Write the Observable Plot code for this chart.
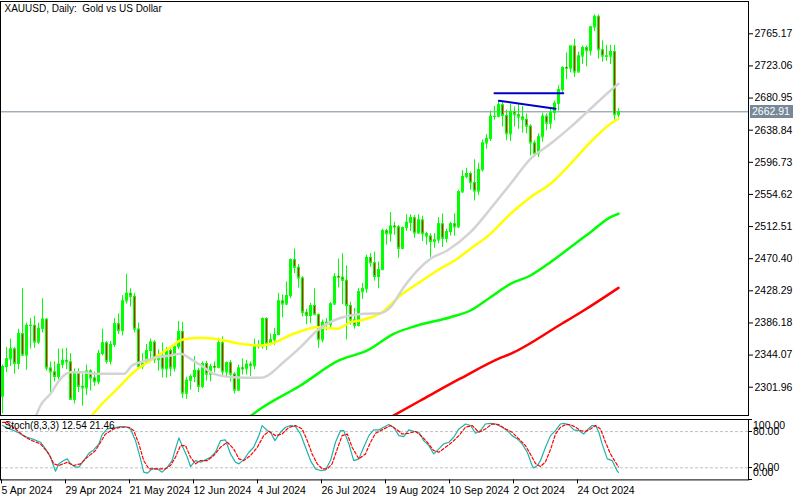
<!DOCTYPE html>
<html><head><meta charset="utf-8">
<script src="https://cdn.jsdelivr.net/npm/d3@7"></script>
<script src="https://cdn.jsdelivr.net/npm/@observablehq/plot@0.6"></script>
<style>
body{margin:0;background:#fff;}
#chart{position:relative;width:800px;height:500px;background:#fff;overflow:hidden;}
#chart svg{position:absolute;left:0;top:0;}
</style></head><body><div id="chart"></div>
<script>
const titleText = "XAUUSD, Daily:  Gold vs US Dollar";
const stochText = "Stoch(8,3,3) 12.54 21.46";
const dateLabels = ["5 Apr 2024","29 Apr 2024","21 May 2024","12 Jun 2024","4 Jul 2024","26 Jul 2024","19 Aug 2024","10 Sep 2024","2 Oct 2024","24 Oct 2024"];
const dateTickIdx = [0,16,32,48,64,80,96,112,128,144];
const priceTicks = [2301.96,2344.07,2386.18,2428.29,2470.40,2512.51,2554.62,2596.73,2638.84,2680.95,2723.06,2765.17];
const lastPrice = 2662.91;
const stochLevels = [20, 80];
const stochAxisVals = [100, 80, 20, 0];
const stochAxisLabels = ["100.00","80.00","20.00","0.00"];

const open = [2290,2329,2339,2352,2333,2372,2344,2383,2383,2361,
 2379,2391,2327,2322,2316,2332,2337,2335,2286,2320,
 2303,2301,2323,2314,2309,2346,2360,2336,2358,2385,
 2376,2415,2425,2421,2378,2329,2333,2350,2361,2338,
 2343,2326,2350,2327,2355,2375,2294,2311,2316,2324,
 2303,2333,2319,2329,2328,2360,2322,2334,2319,2298,
 2327,2326,2332,2330,2356,2356,2392,2359,2364,2371,
 2415,2411,2422,2469,2459,2445,2400,2396,2409,2397,
 2364,2387,2384,2411,2447,2446,2442,2409,2390,2383,
 2427,2431,2472,2465,2447,2456,2507,2503,2513,2512,
 2484,2511,2518,2524,2504,2521,2503,2500,2493,2495,
 2516,2497,2506,2516,2512,2558,2578,2582,2570,2559,
 2587,2622,2628,2657,2657,2672,2658,2634,2663,2659,
 2656,2653,2644,2622,2608,2630,2657,2648,2662,2674,
 2692,2721,2720,2749,2715,2736,2747,2743,2774,2788,
 2744,2736,2736,2742,2659];
const high = [2331,2354,2365,2354,2378,2431,2386,2392,2395,2386,
 2418,2392,2335,2335,2352,2352,2353,2346,2326,2326,
 2319,2331,2325,2322,2350,2378,2362,2362,2392,2398,
 2422,2450,2431,2425,2386,2346,2358,2365,2363,2351,
 2360,2354,2353,2358,2388,2387,2315,2318,2342,2327,
 2335,2336,2332,2335,2366,2368,2335,2337,2321,2331,
 2339,2337,2335,2365,2363,2393,2393,2372,2379,2425,
 2423,2440,2470,2483,2463,2447,2404,2412,2431,2398,
 2390,2392,2413,2451,2470,2477,2461,2413,2405,2431,
 2438,2475,2477,2479,2466,2509,2509,2531,2518,2514,
 2512,2528,2528,2527,2528,2526,2505,2503,2503,2524,
 2529,2509,2518,2529,2560,2586,2589,2584,2600,2595,
 2626,2633,2664,2670,2677,2675,2665,2673,2669,2673,
 2670,2660,2646,2625,2634,2661,2660,2667,2677,2697,
 2722,2740,2749,2758,2741,2749,2749,2775,2790,2790,
 2756,2750,2750,2750,2667];
const low = [2267,2321,2329,2319,2325,2342,2324,2352,2353,2358,
 2373,2323,2291,2309,2308,2326,2325,2285,2280,2295,
 2277,2291,2297,2303,2305,2343,2332,2331,2354,2371,
 2369,2411,2407,2373,2326,2325,2332,2334,2333,2323,
 2314,2314,2316,2322,2351,2287,2286,2298,2308,2295,
 2300,2310,2309,2321,2326,2316,2316,2309,2293,2297,
 2318,2318,2316,2325,2352,2352,2350,2356,2357,2370,
 2393,2409,2418,2451,2432,2394,2384,2385,2397,2353,
 2360,2376,2380,2409,2432,2410,2364,2383,2378,2381,
 2417,2425,2459,2441,2431,2455,2488,2492,2501,2471,
 2482,2506,2506,2497,2502,2493,2488,2472,2484,2490,
 2485,2491,2500,2500,2510,2556,2575,2560,2546,2553,
 2584,2614,2624,2652,2655,2643,2625,2624,2643,2640,
 2635,2634,2605,2604,2603,2623,2638,2640,2651,2664,
 2686,2705,2714,2708,2715,2725,2722,2736,2768,2732,
 2728,2729,2725,2652,2655];
const close = [2329,2339,2352,2333,2372,2344,2383,2383,2361,2379,
 2391,2327,2322,2316,2332,2337,2335,2286,2320,2303,
 2301,2323,2314,2309,2346,2360,2336,2358,2385,2376,
 2415,2425,2421,2378,2329,2333,2350,2361,2338,2343,
 2326,2350,2327,2355,2375,2294,2311,2316,2324,2303,
 2333,2319,2329,2328,2360,2322,2334,2319,2298,2327,
 2326,2332,2330,2356,2356,2392,2359,2364,2371,2415,
 2411,2422,2469,2459,2445,2400,2396,2409,2397,2364,
 2387,2384,2411,2447,2446,2442,2409,2390,2383,2427,
 2431,2472,2465,2447,2456,2507,2503,2513,2512,2484,
 2511,2518,2524,2504,2521,2503,2500,2493,2495,2516,
 2497,2506,2516,2512,2558,2578,2582,2570,2559,2587,
 2622,2628,2657,2657,2672,2658,2634,2663,2659,2656,
 2653,2644,2622,2608,2630,2657,2648,2662,2674,2692,
 2721,2720,2749,2715,2736,2747,2743,2774,2788,2744,
 2736,2736,2742,2659,2663];

// moving averages (bar index, price)
const grayIdx = [8.25,9.5,12,14.5,17,20.3,22.8,30.3,32.4,34.5,38.7,42,44.5,47,50.3,52.8,57.8,64.5,70.75,74.5,78.7,82.8,87,90.3,94.5,97,100.3,103.7,107,111.2,117,122,127,132,137,142,147,152,154];
const grayVal = [2262.6,2278.0,2293.3,2313.0,2321.6,2321.6,2319.5,2319.5,2330.4,2334.7,2341.3,2343.5,2345.7,2339.2,2328.2,2319.5,2315.1,2314.3,2337.0,2354.4,2376.3,2389.4,2395.9,2398.2,2399.0,2406.8,2433.0,2454.9,2470.3,2481.2,2505.1,2535.8,2568.6,2601.3,2621.0,2642.8,2666.9,2690.9,2699.6];
const yellowIdx = [22,24.5,28.7,32.8,37,42,44.9,49.5,54.5,59.5,64.5,67,72.8,78.7,83.7,87,89.5,94.5,99.5,103.7,108.7,113.7,117,122,127,132,137,142,147,152,154];
const yellowVal = [2262.6,2278.0,2299.9,2321.6,2337.0,2354.4,2364.1,2366.7,2364.1,2358.9,2356.6,2358.9,2372.0,2380.6,2378.5,2387.2,2389.4,2399.0,2422.2,2437.5,2454.9,2470.3,2483.4,2503.0,2529.3,2551.0,2568.6,2594.8,2623.1,2647.2,2653.8];
const greenIdx = [61.6,64.5,74.5,84.1,91.2,97.8,103.7,112,117,122,127,132,137,142,147,152,154];
const greenVal = [2262.6,2273.6,2304.2,2337.0,2350.1,2372.0,2382.8,2393.7,2402.5,2419.9,2437.5,2448.4,2465.8,2485.5,2505.1,2524.8,2529.3];
const redIdx = [97,104.5,114.5,124.9,127,139.5,145.3,154];
const redVal = [2262.6,2284.5,2313.4,2341.3,2345.7,2384.1,2402.5,2432.2];

// trendlines drawn on the chart
const blueFlatIdx = [123, 140.2];
const blueFlatVal = [2687.3, 2687.3];
const blueSlopeIdx = [124.1, 138.25];
const blueSlopeVal = [2677.5, 2667.0];

// stochastic %K and %D
const kIdx = [0,2,4,4.9,6.2,7.4,9.5,10.75,12,13.25,
 14.1,15.3,16.2,17,18.25,19.1,20.3,21.6,22.8,24.1,
 24.9,26.2,29.5,30.75,32,33.25,34.5,35.3,36.2,37.4,
 38.7,39.9,41.2,42.4,43.25,44.1,44.9,46.2,47,48.25,
 49.5,50.75,52,53.25,54.5,55.75,57,58.25,59.1,60.3,
 61.6,62.8,64.1,64.9,66.2,67,68.1,69.5,70.75,72,
 73.25,74.5,75.75,77,78.25,79.5,80.75,82,83.25,84.5,
 85.3,86.6,87.8,89.1,90.3,91.6,92.8,94.1,95.3,96.6,
 97.8,99.1,100.3,101.6,102.8,104.1,105.3,106.6,107.8,109.1,
 110.3,111.6,112.8,114.1,115.75,117,118.25,119.5,120.75,122,
 123.25,124.9,126.2,127.4,128.7,129.9,131.2,132.4,132.8,133.7,
 134.5,135.75,137,138.25,139.5,140.3,141.6,142.8,144.1,145.3,
 146.2,147.4,148.25,149.1,149.9,151.2,152.4,153.7,154];
const kVal = [90,84,78,74.5,70.6,67.9,62.4,51.3,37.6,14.4,
 26.6,32,34.8,26.6,21,21,32,44,49.7,59.6,
 75,84.4,88.3,88.3,84.4,65,34.8,12.8,11.1,18.3,
 18.3,12.8,21,32,51.3,69.5,56.8,37.6,22.1,32,
 29.3,33.2,37.6,45.8,65,66.2,43,29.3,26.6,33.2,
 45.8,54.1,73.4,89.9,81.7,78.9,65,78.9,87.2,90,
 88.3,76,54,32,18.3,15.5,16.6,32,62.3,81.7,
 81.7,59.6,32,34.8,54,73.3,82.8,82.8,87.2,91.6,
 87.2,73.3,71.6,82.8,80.6,78.9,65,56.8,43,51.3,
 59.6,62.3,70.6,84.4,92.6,90,77.2,81.7,92.6,93.7,
 92.6,87.2,81.7,73.3,67.8,59.6,45.8,23.8,19.9,23.8,
 32,54,73.3,81.7,92.6,93.7,91.5,82.8,81.7,76,
 82.8,90,90,78.9,59.6,34.8,32,14.4,12.54];
const dIdx = [0,1.2,5.75,7.4,9.5,11.6,12.8,14.1,16.2,17.8,
 19.5,21.2,23.25,24.5,25.75,27.8,29.5,31.6,32.8,34.1,
 35.3,36.6,37.8,39.5,40.75,42,43.25,44.5,45.75,47,
 48.25,49.5,51.2,52.8,54.5,56.2,57.8,59.1,60.3,62,
 63.7,65.3,66.6,68.25,69.9,71.6,73.25,74.9,76.2,77.4,
 78.7,79.9,81.2,82.4,83.7,84.9,86.2,87.4,89.1,90.75,
 92,93.25,94.9,97,98.7,99.9,101.6,103.25,104.9,106.2,
 107.8,109.1,110.75,112.4,114.1,115.75,117.4,119.1,120.75,122.4,
 124.1,125.75,127.4,129.1,130.75,132.4,133.25,134.5,135.75,137,
 138.25,139.5,140.75,142,143.25,144.5,145.75,147,148.25,149.5,
 150.75,152,153.25,154];
const dVal = [95.3,95.3,70.6,65,59.6,43,26.6,23.8,29.3,23.8,
 26.6,37.6,48.6,62.3,76,84.4,87.2,87.2,81.7,59.6,
 32,18.3,18.3,18.3,18.3,23.8,37.6,56.8,56.8,37.6,
 26.6,32,32,40.3,54,62.3,51.3,34.8,32,40.3,
 54,73.3,80.4,73.3,76,87.2,90,84.4,65,43,
 26.6,18.3,18.3,26.6,51.3,73.3,76,54,34.8,43,
 62.3,77.2,82.8,90,82.8,76,77.2,80.4,71.6,62.3,
 48.6,45.8,54,62.3,73.3,87.2,90,78.9,84.4,92.6,
 91.5,84.4,78.9,67.8,56.8,37.6,27,22,30,50,
 76,87.2,91.5,91.5,87.2,81.7,80.4,84.4,90,84.4,
 62.3,43,29.3,21.46];

const FONT = "'Liberation Sans', Arial, sans-serif";
const X_DOMAIN = [-0.5, 186.5];
const LIME = "#00ff00";
const bars = close.map((c, i) => ({i, o: open[i], h: high[i], l: low[i], c}));
const bears = bars.filter(d => d.c < d.o);
const pts = (xs, ys) => xs.map((x, k) => ({x, y: ys[k]}));
const bodyL = d => d.i - 0.25, bodyR = d => d.i + 0.5;

function priceTag(index, scales, values, dims) {
  const y = Math.round(scales.y(lastPrice));
  const x0 = Math.round(scales.x(X_DOMAIN[1])) + 2;
  const g = d3.create("svg:g");
  g.append("rect").attr("x", x0).attr("y", y - 6).attr("width", 43).attr("height", 13).attr("fill", "#778899");
  g.append("text").attr("x", x0 + 2).attr("y", y + 0.5).attr("dy", "0.35em")
    .attr("text-anchor", "start").attr("fill", "white")
    .attr("font-family", FONT).attr("font-size", 10.5).text(lastPrice.toFixed(2));
  return g.node();
}

const main = Plot.plot({
  width: 800, height: 500,
  marginLeft: 0, marginRight: 52, marginTop: 1, marginBottom: 85,
  style: {fontFamily: FONT, fontSize: "10px", background: "none", color: "black", overflow: "visible"},
  x: {domain: X_DOMAIN, axis: null},
  y: {domain: [2264.87, 2807.5], axis: null},
  marks: [
    Plot.ruleY([lastPrice], {stroke: "#778899"}),
    Plot.ruleX(bars, {x: "i", y1: "l", y2: "h", stroke: LIME}),
    Plot.rect(bars, {x1: bodyL, x2: bodyR, y1: "o", y2: "c", fill: LIME}),
    Plot.ruleY(bars, {x1: bodyL, x2: bodyR, y: "o", stroke: LIME}),
    Plot.ruleY(bars, {x1: bodyL, x2: bodyR, y: "c", stroke: LIME}),
    Plot.ruleX(bears, {x: "i", y1: "o", y2: "c", stroke: "#ff0000", insetTop: 1, insetBottom: 1}),
    Plot.line(pts(redIdx, redVal), {x: "x", y: "y", stroke: "#ff0000", strokeWidth: 2.5, curve: "monotone-x", clip: true}),
    Plot.line(pts(greenIdx, greenVal), {x: "x", y: "y", stroke: LIME, strokeWidth: 2.5, curve: "monotone-x", clip: true}),
    Plot.line(pts(yellowIdx, yellowVal), {x: "x", y: "y", stroke: "#ffff00", strokeWidth: 2.5, curve: "monotone-x", clip: true}),
    Plot.line(pts(grayIdx, grayVal), {x: "x", y: "y", stroke: "#d3d3d3", strokeWidth: 2.5, curve: "monotone-x", clip: true}),
    Plot.line(pts(blueFlatIdx, blueFlatVal), {x: "x", y: "y", stroke: "#0000cd", strokeWidth: 2}),
    Plot.line(pts(blueSlopeIdx, blueSlopeVal), {x: "x", y: "y", stroke: "#0000cd", strokeWidth: 2}),
    Plot.frame({stroke: "black"}),
    Plot.axisY(priceTicks, {anchor: "right", label: null, tickSize: 4, tickPadding: 2, tickFormat: d => d.toFixed(2), fontSize: 10.5, fill: "black"}),
    Plot.text([titleText], {frameAnchor: "top-left", dx: 4, dy: 3, lineAnchor: "top", text: d => d, fontSize: 10, fill: "black"}),
    priceTag
  ]
});

const stochLabelDy = [5.5, 0, 0, -7];
function stochAxis(index, scales, values, dims) {
  const x0 = Math.round(scales.x(X_DOMAIN[1]));
  const g = d3.create("svg:g").attr("font-family", FONT).attr("font-size", 10.5).attr("text-anchor", "start");
  stochAxisVals.forEach((v, k) => {
    const y = Math.round(scales.y(v)) + 0.5;
    g.append("line").attr("x1", x0).attr("x2", x0 + 4).attr("y1", y).attr("y2", y).attr("stroke", "black");
    g.append("text").attr("x", x0 + 5).attr("y", y + stochLabelDy[k]).attr("dy", "0.35em")
      .attr("text-anchor", "start").attr("fill", "black").text(stochAxisLabels[k]);
  });
  return g.node();
}

const labelOf = new Map(dateTickIdx.map((t, k) => [t, dateLabels[k]]));
const stoch = Plot.plot({
  width: 800, height: 500,
  marginLeft: 0, marginRight: 52, marginTop: 419, marginBottom: 20.6,
  style: {fontFamily: FONT, fontSize: "10px", background: "none", color: "black", overflow: "visible"},
  x: {domain: X_DOMAIN, axis: null},
  y: {domain: [0, 100], axis: null},
  marks: [
    Plot.ruleY(stochLevels, {stroke: "#c0c0c0", strokeDasharray: "3,2"}),
    Plot.line(pts(kIdx, kVal), {x: "x", y: "y", stroke: "#20b2aa", strokeWidth: 1.2, clip: true}),
    Plot.line(pts(dIdx, dVal), {x: "x", y: "y", stroke: "#ff0000", strokeWidth: 1.2, strokeDasharray: "3,2", clip: true}),
    Plot.frame({stroke: "black"}),
    Plot.text([stochText], {frameAnchor: "top-left", dx: 4, dy: 2, lineAnchor: "top", text: d => d, fontSize: 10, fill: "black"}),
    Plot.axisX(dateTickIdx, {anchor: "bottom", label: null, tickSize: 4, tickPadding: 3, textAnchor: "start", dx: -1, tickFormat: d => labelOf.get(d), fontSize: 10.5, fill: "black"}),
    stochAxis
  ]
});

const root = document.getElementById("chart");
root.append(main);
root.append(stoch);
</script>
</body></html>
